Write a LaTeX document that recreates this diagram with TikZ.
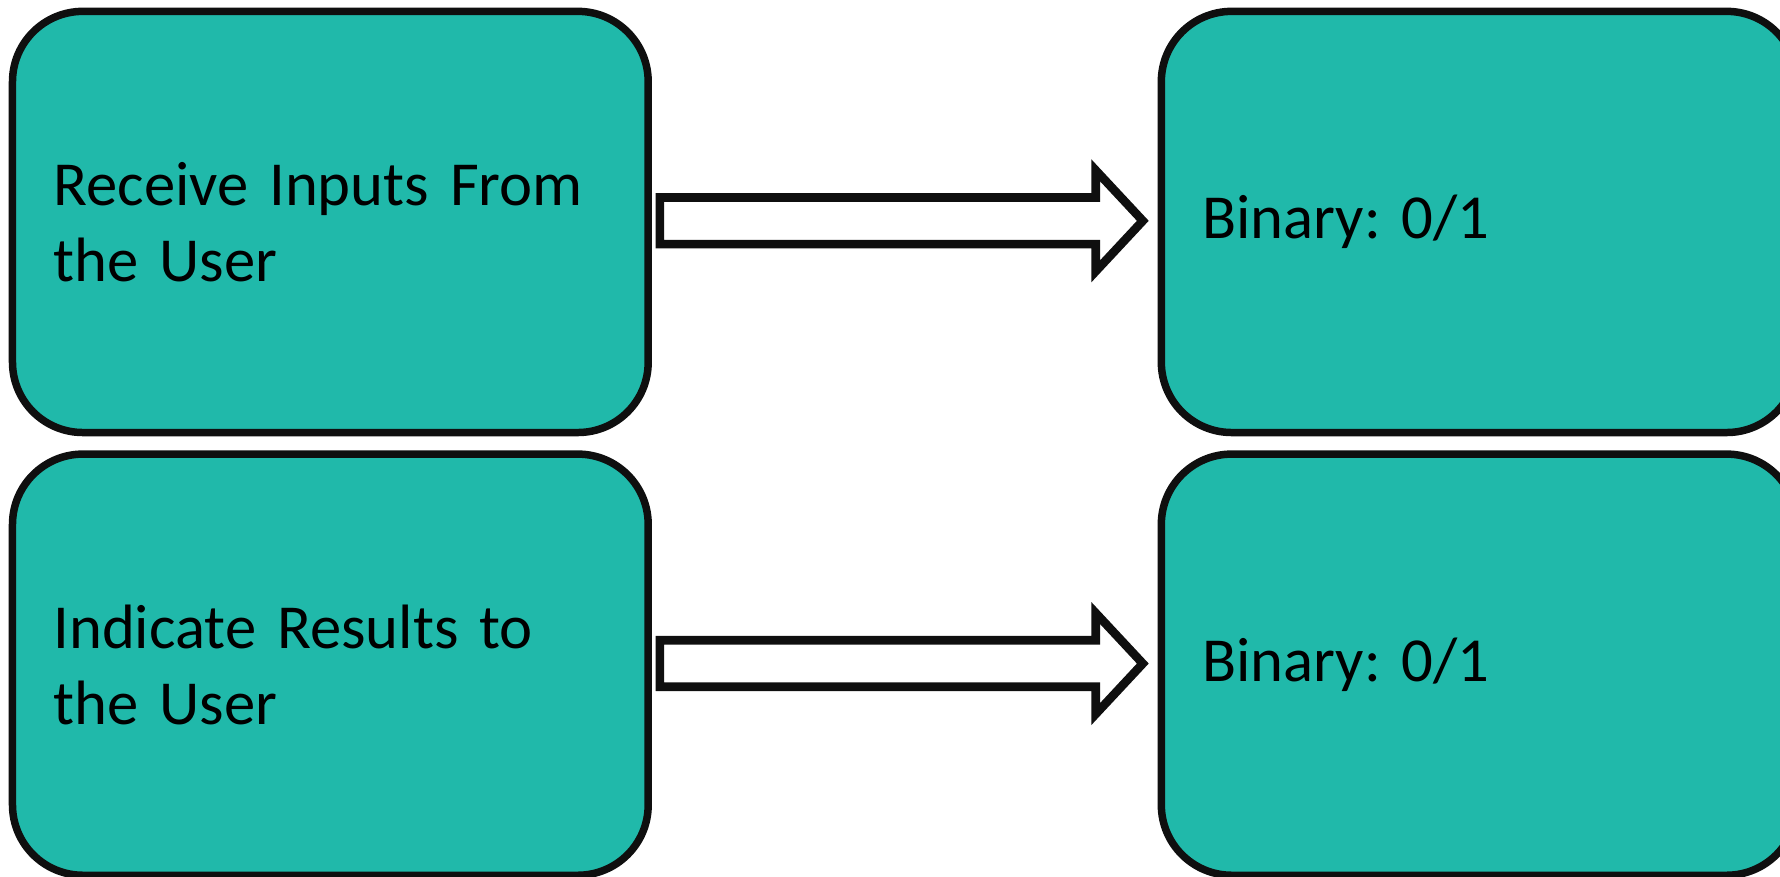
\documentclass[tikz,border=0pt]{standalone}
\usepackage{fontspec}
\setmainfont{Carlito}
\usetikzlibrary{calc}
\definecolor{tealfill}{RGB}{32,185,170}
\definecolor{edgecol}{RGB}{15,15,15}
\begin{document}
\frenchspacing
\begin{tikzpicture}[x=0.5pt,y=-0.5pt,
  box/.style={draw=edgecol, line width=3.3pt, fill=tealfill, rounded corners=31pt,
    minimum width=280pt, minimum height=185.5pt, text width=244pt,
    inner xsep=18pt, inner ysep=0pt, align=left,
    font=\fontsize{27.6}{33.3}\selectfont\frenchspacing, text=black},
  blockarrow/.style={draw=edgecol, line width=3.8pt, fill=white, line join=miter}]
\useasboundingbox (0,0) rectangle (1568,772);
\clip (0,0) rectangle (1568,772);
\node[box] (b1) at (291,195.5) {Receive Inputs From\\the User};
\node[box] (b2) at (291,585.5) {Indicate Results to\\the User};
\node[box] (b3) at (1303,195.5) {Binary: 0/1};
\node[box] (b4) at (1303,585.5) {Binary: 0/1};
\draw[blockarrow] ($(b1.east)+(7,-21.5)$) -- ($(b3.west)+(-54.5,-21.5)$) -- ++(0,-24)
  -- ($(b3.west)+(-13,-1)$) -- ($(b3.west)+(-54.5,43.5)$) -- ++(0,-24)
  -- ($(b1.east)+(7,19.5)$) -- cycle;
\draw[blockarrow] ($(b2.east)+(7,-21.5)$) -- ($(b4.west)+(-54.5,-21.5)$) -- ++(0,-24)
  -- ($(b4.west)+(-13,-1)$) -- ($(b4.west)+(-54.5,43.5)$) -- ++(0,-24)
  -- ($(b2.east)+(7,19.5)$) -- cycle;
\end{tikzpicture}
\end{document}
